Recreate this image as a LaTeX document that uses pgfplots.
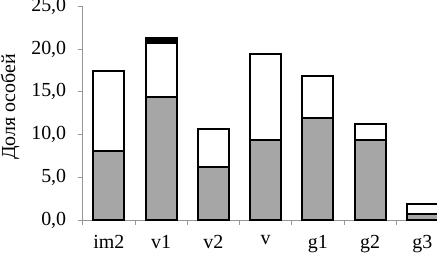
\documentclass[border=0pt]{standalone}
\usepackage{pgfplots}
\pgfplotsset{compat=1.18}
\usepackage{fontspec}
\setmainfont{Liberation Serif}
\definecolor{barg}{RGB}{166,166,166}
\definecolor{axg}{RGB}{150,150,150}
\begin{document}
\begin{tikzpicture}
\begin{axis}[
  name=ax, at={(0,0)}, anchor=south west,
  scale only axis, width=354.3bp, height=213.5bp,
  ybar stacked, bar width=31bp,
  xmin=-0.5, xmax=6.28, ymin=0, ymax=25,
  axis x line*=bottom, axis y line*=left,
  axis line style={axg, line width=0.8bp, -},
  xtick={0,...,6}, xticklabels={im2,v1,v2,v,g1,g2,g3},
  major x tick style={draw=none},
  minor xtick={-0.5,0.5,1.5,2.5,3.5,4.5,5.5},
  minor x tick style={axg, line width=0.8bp},
  minor tick length=5bp,
  ytick={0,5,...,25},
  y tick style={axg, line width=0.8bp},
  major tick length=5bp,
  tick align=outside,
  tick label style={font=\fontsize{20}{24}\selectfont, text=black},
  xticklabel style={yshift=-7bp},
  yticklabel style={xshift=-8bp},
  /pgf/number format/.cd, fixed, fixed zerofill, precision=1, use comma, assume math mode=true,
  /pgfplots/.cd,
  ylabel={Доля особей},
  ylabel style={font=\fontsize{20}{24}\selectfont, at={(axis description cs:-0.205,0.53)}, anchor=center},
  every axis plot/.append style={draw=black, line width=2bp},
  clip=false,
]
\addplot[fill=barg] coordinates {(0,8.1) (1,14.4) (2,6.2) (3,9.4) (4,11.9) (5,9.4) (6,0.7)};
\addplot[fill=white] coordinates {(0,9.4) (1,6.3) (2,4.5) (3,10.0) (4,5.0) (5,1.8) (6,1.2)};
\addplot[fill=black] coordinates {(0,0) (1,0.6) (2,0) (3,0) (4,0) (5,0) (6,0)};
\end{axis}
\pgfresetboundingbox
\path[use as bounding box] (-82.7bp,-39bp) rectangle (354.3bp,220bp);
\end{tikzpicture}
\end{document}
